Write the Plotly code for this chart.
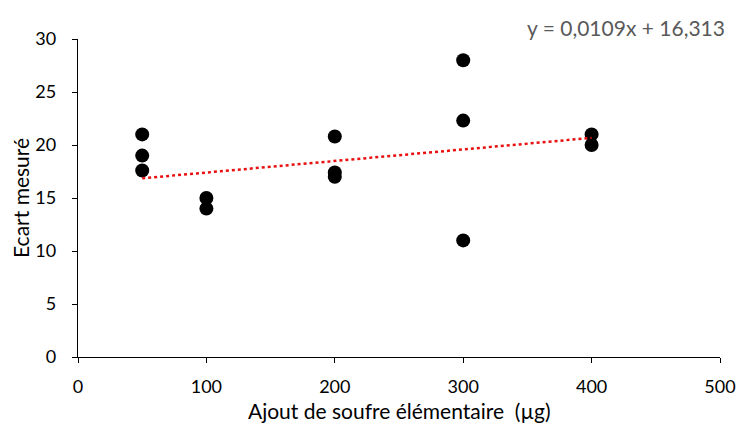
import plotly.graph_objects as go

x_vals = [50, 50, 50, 100, 100, 200, 200, 200, 300, 300, 300, 400, 400]
y_vals = [21.0, 19.0, 17.6, 15.0, 14.0, 20.8, 17.4, 17.0, 28.0, 22.3, 11.0, 21.0, 20.0]
x_ticks = [0, 100, 200, 300, 400, 500]
y_ticks = [0, 5, 10, 15, 20, 25, 30]
trend_slope = 0.0109
trend_intercept = 16.313
equation_text = "y = 0,0109x + 16,313"

x_fit = [min(x_vals), max(x_vals)]
y_fit = [trend_slope * v + trend_intercept for v in x_fit]

font_family = "Lato, 'Open Sans', sans-serif"

fig = go.Figure()
fig.add_trace(go.Scatter(x=x_vals, y=y_vals, mode="markers",
                         marker=dict(color="black", size=14), showlegend=False))
fig.add_trace(go.Scatter(x=x_fit, y=y_fit, mode="lines",
                         line=dict(color="#e81010", width=2.5, dash="dot"), showlegend=False))

fig.update_layout(
    width=739, height=428,
    margin=dict(l=78, r=19, t=39, b=71),
    paper_bgcolor="white", plot_bgcolor="white",
    font=dict(family=font_family, size=18, color="#000000"),
    xaxis=dict(range=[0, 500], tickvals=x_ticks, showgrid=False, zeroline=False,
               showline=True, linecolor="black", linewidth=1.3, ticks="outside",
               ticklen=5, tickcolor="black", automargin=False, ticklabelstandoff=8),
    yaxis=dict(range=[0, 30], tickvals=y_ticks, showgrid=False, zeroline=False,
               showline=True, linecolor="black", linewidth=1.3, ticks="outside",
               ticklen=5, tickcolor="black", automargin=False, ticklabelstandoff=12),
    annotations=[
        dict(text=equation_text, xref="paper", yref="paper",
             x=1.0, y=1.0, xanchor="right", yanchor="middle", xshift=7, yshift=12,
             showarrow=False, font=dict(size=21, color="#595959")),
        dict(text="Ajout de soufre élémentaire  (µg)", xref="paper", yref="paper",
             x=0.5, y=0, xanchor="center", yanchor="middle", yshift=-53,
             showarrow=False, font=dict(size=21, color="#000000")),
        dict(text="Ecart mesuré", xref="paper", yref="paper", textangle=-90,
             x=0, y=0.5, xanchor="center", yanchor="middle", xshift=-58,
             showarrow=False, font=dict(size=21, color="#000000")),
    ],
)

fig.write_html(
    "out.html",
    config={"displayModeBar": False},
    post_script="document.body.style.margin='0';document.body.style.overflow='hidden';",
)
